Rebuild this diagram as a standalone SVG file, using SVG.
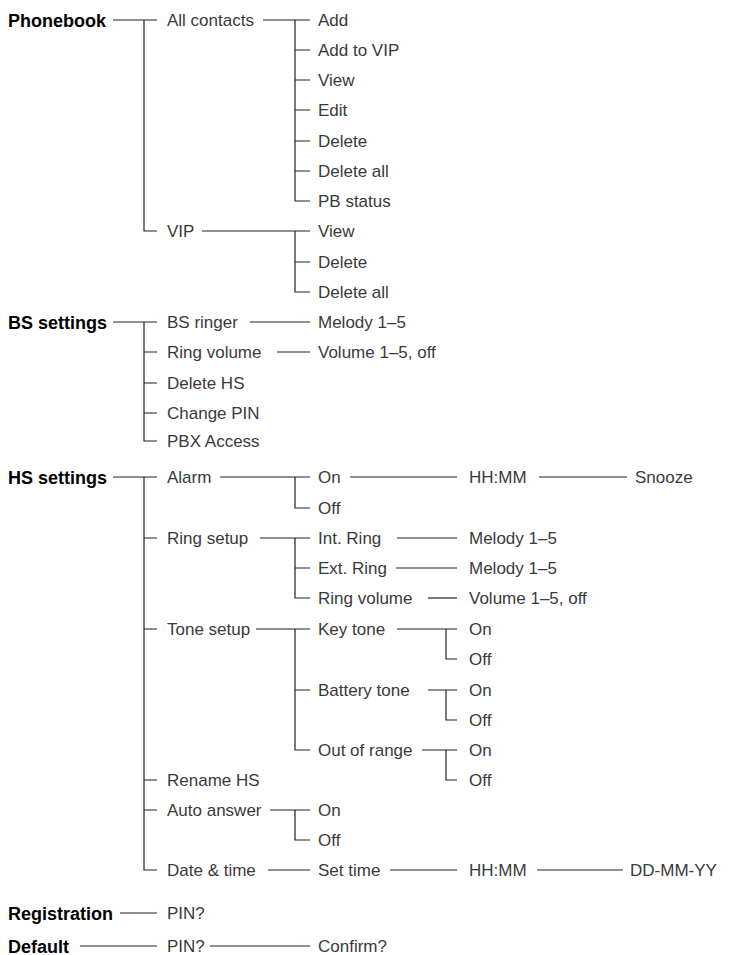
<svg xmlns="http://www.w3.org/2000/svg" width="735" height="955" viewBox="0 0 735 955">
<style>
text{font-family:"Liberation Sans",Arial,sans-serif;font-size:17px;fill:#3a3a3a}
text.h{font-weight:bold;font-size:18px;fill:#000}
#connectors path{fill:none;stroke:#222;stroke-width:1.2}
</style>
<rect width="735" height="955" fill="#fff"/>
<g id="connectors">
<path d="M113 20H157M144 20V231H157"/>
<path d="M263 20H310M295 20V201H310M295 50H310M295 80H310M295 110H310M295 141H310M295 171H310"/>
<path d="M202 231H310M295 231V292H310M295 262H310"/>
<path d="M113 322H157M144 322V441H157M144 352H157M144 383H157M144 413H157"/>
<path d="M250 322H310"/>
<path d="M277 352H310"/>
<path d="M113 477H157M144 477V870H157M144 538H157M144 629H157M144 780H157M144 810H157"/>
<path d="M220 477H310M295 477V508H310"/>
<path d="M350 477H457"/>
<path d="M539 477H627"/>
<path d="M260 538H310M295 538V598H310M295 568H310"/>
<path d="M397 538H457"/>
<path d="M396 568H457"/>
<path d="M428 598H457"/>
<path d="M256 629H310M295 629V750H310M295 690H310"/>
<path d="M397 629H457M446 629V659H457"/>
<path d="M428 690H457M446 690V720H457"/>
<path d="M422 750H457M446 750V780H457"/>
<path d="M270 810H310M295 810V840H310"/>
<path d="M268 870H310"/>
<path d="M390 870H457"/>
<path d="M537 870H623"/>
<path d="M120 913H157"/>
<path d="M80 946H157"/>
<path d="M210 946H310"/>
</g>
<g id="phonebook"><text class="h" x="8" y="26.5">Phonebook</text></g>
<g id="all-contacts"><text x="167" y="26">All contacts</text></g>
<g id="pb-add"><text x="318" y="26">Add</text></g>
<g id="pb-add-vip"><text x="318" y="56">Add to VIP</text></g>
<g id="pb-view"><text x="318" y="86">View</text></g>
<g id="pb-edit"><text x="318" y="116">Edit</text></g>
<g id="pb-delete"><text x="318" y="147">Delete</text></g>
<g id="pb-delete-all"><text x="318" y="177">Delete all</text></g>
<g id="pb-status"><text x="318" y="207">PB status</text></g>
<g id="vip"><text x="167" y="237">VIP</text></g>
<g id="vip-view"><text x="318" y="237">View</text></g>
<g id="vip-delete"><text x="318" y="268">Delete</text></g>
<g id="vip-delete-all"><text x="318" y="298">Delete all</text></g>
<g id="bs-settings"><text class="h" x="8" y="328.5">BS settings</text></g>
<g id="bs-ringer"><text x="167" y="328">BS ringer</text></g>
<g id="bs-melody"><text x="318" y="328">Melody 1–5</text></g>
<g id="bs-ring-volume"><text x="167" y="358">Ring volume</text></g>
<g id="bs-volume"><text x="318" y="358">Volume 1–5, off</text></g>
<g id="delete-hs"><text x="167" y="389">Delete HS</text></g>
<g id="change-pin"><text x="167" y="419">Change PIN</text></g>
<g id="pbx-access"><text x="167" y="447">PBX Access</text></g>
<g id="hs-settings"><text class="h" x="8" y="483.5">HS settings</text></g>
<g id="alarm"><text x="167" y="483">Alarm</text></g>
<g id="alarm-on"><text x="318" y="483">On</text></g>
<g id="alarm-hhmm"><text x="469" y="483">HH:MM</text></g>
<g id="snooze"><text x="635" y="483">Snooze</text></g>
<g id="alarm-off"><text x="318" y="514">Off</text></g>
<g id="ring-setup"><text x="167" y="544">Ring setup</text></g>
<g id="int-ring"><text x="318" y="544">Int. Ring</text></g>
<g id="int-melody"><text x="469" y="544">Melody 1–5</text></g>
<g id="ext-ring"><text x="318" y="574">Ext. Ring</text></g>
<g id="ext-melody"><text x="469" y="574">Melody 1–5</text></g>
<g id="hs-ring-volume"><text x="318" y="604">Ring volume</text></g>
<g id="hs-volume"><text x="469" y="604">Volume 1–5, off</text></g>
<g id="tone-setup"><text x="167" y="635">Tone setup</text></g>
<g id="key-tone"><text x="318" y="635">Key tone</text></g>
<g id="key-on"><text x="469" y="635">On</text></g>
<g id="key-off"><text x="469" y="665">Off</text></g>
<g id="battery-tone"><text x="318" y="696">Battery tone</text></g>
<g id="battery-on"><text x="469" y="696">On</text></g>
<g id="battery-off"><text x="469" y="726">Off</text></g>
<g id="out-of-range"><text x="318" y="756">Out of range</text></g>
<g id="range-on"><text x="469" y="756">On</text></g>
<g id="range-off"><text x="469" y="786">Off</text></g>
<g id="rename-hs"><text x="167" y="786">Rename HS</text></g>
<g id="auto-answer"><text x="167" y="816">Auto answer</text></g>
<g id="auto-on"><text x="318" y="816">On</text></g>
<g id="auto-off"><text x="318" y="846">Off</text></g>
<g id="date-time"><text x="167" y="876">Date &amp; time</text></g>
<g id="set-time"><text x="318" y="876">Set time</text></g>
<g id="set-hhmm"><text x="469" y="876">HH:MM</text></g>
<g id="ddmmyy"><text x="630" y="876">DD-MM-YY</text></g>
<g id="registration"><text class="h" x="8" y="919.5">Registration</text></g>
<g id="reg-pin"><text x="167" y="919">PIN?</text></g>
<g id="default"><text class="h" x="8" y="952.5">Default</text></g>
<g id="def-pin"><text x="167" y="952">PIN?</text></g>
<g id="confirm"><text x="318" y="952">Confirm?</text></g>
</svg>
